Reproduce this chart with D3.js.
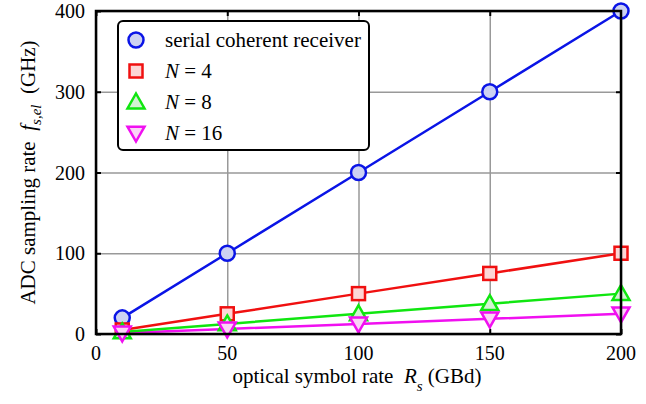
<!DOCTYPE html>
<html>
<head>
<meta charset="utf-8">
<script src="https://cdn.jsdelivr.net/npm/d3@7"></script>
<style>
  body { margin: 0; background: #fff; }
  svg text { white-space: pre; }
</style>
</head>
<body>
<div id="chart"></div>
<script>
// values
const symbolRate = [10, 50, 100, 150, 200];
const serial = [20, 100, 200, 300, 400];
const n4 = [5, 25, 50, 75, 100];
const n8 = [2.5, 12.5, 25, 37.5, 50];
const n16 = [1.25, 6.25, 12.5, 18.75, 25];
const xTicks = [0, 50, 100, 150, 200];
const yTicks = [0, 100, 200, 300, 400];

const series = [
  { name: "serial coherent receiver", values: serial, stroke: "#0a14e6", fill: "#cdd2f2", shape: "circle" },
  { name: "4", values: n4, stroke: "#f01010", fill: "#fcd6d6", shape: "square" },
  { name: "8", values: n8, stroke: "#10e610", fill: "#d4f2d4", shape: "triangle" },
  { name: "16", values: n16, stroke: "#f010f0", fill: "#fad4f6", shape: "down" }
];

const width = 646, height = 404;
const margin = { left: 96, right: 25, top: 11, bottom: 70 };
const serifFont = "'Liberation Serif', 'Times New Roman', Times, serif";

const svg = d3.select("#chart").append("svg")
  .attr("width", width).attr("height", height)
  .attr("font-family", serifFont)
  .style("font-family", serifFont);

const x = d3.scaleLinear().domain([0, 200]).range([margin.left, width - margin.right]);
const y = d3.scaleLinear().domain([0, 400]).range([height - margin.bottom, margin.top]);

// grid
svg.append("g")
  .attr("transform", `translate(0,${height - margin.bottom})`)
  .call(d3.axisBottom(x).tickValues(xTicks).tickSize(-(height - margin.bottom - margin.top)).tickFormat(""))
  .call(g => g.select(".domain").remove())
  .call(g => g.selectAll("line").attr("stroke", "#999").attr("stroke-width", 1.5));
svg.append("g")
  .attr("transform", `translate(${margin.left},0)`)
  .call(d3.axisLeft(y).tickValues(yTicks).tickSize(-(width - margin.left - margin.right)).tickFormat(""))
  .call(g => g.select(".domain").remove())
  .call(g => g.selectAll("line").attr("stroke", "#999").attr("stroke-width", 1.5));

// inward ticks on all four sides
const tk = 5;
svg.append("g").attr("transform", `translate(0,${height - margin.bottom})`)
  .call(d3.axisBottom(x).tickValues(xTicks).tickSize(-tk).tickFormat(""))
  .call(g => g.select(".domain").remove())
  .call(g => g.selectAll("line").attr("stroke", "#000").attr("stroke-width", 2));
svg.append("g").attr("transform", `translate(0,${margin.top})`)
  .call(d3.axisTop(x).tickValues(xTicks).tickSize(-tk).tickFormat(""))
  .call(g => g.select(".domain").remove())
  .call(g => g.selectAll("line").attr("stroke", "#000").attr("stroke-width", 2));
svg.append("g").attr("transform", `translate(${margin.left},0)`)
  .call(d3.axisLeft(y).tickValues(yTicks).tickSize(-tk).tickFormat(""))
  .call(g => g.select(".domain").remove())
  .call(g => g.selectAll("line").attr("stroke", "#000").attr("stroke-width", 2));
svg.append("g").attr("transform", `translate(${width - margin.right},0)`)
  .call(d3.axisRight(y).tickValues(yTicks).tickSize(-tk).tickFormat(""))
  .call(g => g.select(".domain").remove())
  .call(g => g.selectAll("line").attr("stroke", "#000").attr("stroke-width", 2));

// tick labels
svg.append("g").selectAll("text").data(xTicks).join("text")
  .attr("x", d => x(d)).attr("y", height - margin.bottom + 26)
  .attr("text-anchor", "middle").style("font-size", "20px").text(d => d);
svg.append("g").selectAll("text").data(yTicks).join("text")
  .attr("x", margin.left - 11).attr("y", d => y(d) + 7)
  .attr("text-anchor", "end").style("font-size", "20px").text(d => d);

// lines and markers
const line = d3.line().x((d, i) => x(symbolRate[i])).y(d => y(d));

function drawMarker(g, shape, cx, cy) {
  if (shape === "circle") {
    return g.append("circle").attr("cx", cx).attr("cy", cy).attr("r", 7.5);
  }
  if (shape === "square") {
    return g.append("rect").attr("x", cx - 6.5).attr("y", cy - 6.5).attr("width", 13).attr("height", 13);
  }
  const s = 8.5;
  if (shape === "triangle") {
    return g.append("path").attr("d", `M${cx},${cy - s}L${cx + s},${cy + s * 0.75}L${cx - s},${cy + s * 0.75}Z`);
  }
  return g.append("path").attr("d", `M${cx},${cy + s}L${cx + s},${cy - s * 0.75}L${cx - s},${cy - s * 0.75}Z`);
}

series.slice().reverse().forEach(s => {
  svg.append("path").datum(s.values)
    .attr("fill", "none").attr("stroke", s.stroke).attr("stroke-width", 2.5)
    .attr("d", line);
});
series.forEach(s => {
  const g = svg.append("g");
  s.values.forEach((v, i) => {
    drawMarker(g, s.shape, x(symbolRate[i]), y(v))
      .attr("fill", s.fill).attr("stroke", s.stroke).attr("stroke-width", 2.5);
  });
});

// frame
svg.append("rect")
  .attr("x", margin.left).attr("y", margin.top)
  .attr("width", width - margin.left - margin.right)
  .attr("height", height - margin.top - margin.bottom)
  .attr("fill", "none").attr("stroke", "#000").attr("stroke-width", 2.5);

// legend
const lg = svg.append("g");
lg.append("rect").attr("x", 118).attr("y", 21).attr("width", 251).attr("height", 129)
  .attr("rx", 5).attr("fill", "#fff").attr("stroke", "#000").attr("stroke-width", 2);
series.forEach((s, i) => {
  const cy = 40 + i * 31;
  drawMarker(lg, s.shape, 136, cy).attr("fill", s.fill).attr("stroke", s.stroke).attr("stroke-width", 2.5);
  const t = lg.append("text").attr("x", 165).attr("y", cy + 7).style("font-size", "21px");
  if (i === 0) {
    t.text(s.name);
  } else {
    t.append("tspan").style("font-style", "italic").text("N");
    t.append("tspan").text(" = " + s.name);
  }
});

// axis titles
const xt = svg.append("text").attr("x", 357).attr("y", 383)
  .attr("text-anchor", "middle").style("font-size", "21px");
xt.append("tspan").text("optical symbol rate  ");
xt.append("tspan").style("font-style", "italic").text("R");
xt.append("tspan").attr("dy", 8).style("font-size", "15px").style("font-style", "italic").text("s");
xt.append("tspan").attr("dy", -8).text(" (GBd)");

const yt = svg.append("text")
  .attr("transform", `translate(35,${(margin.top + height - margin.bottom) / 2}) rotate(-90)`)
  .attr("text-anchor", "middle").style("font-size", "21px");
yt.append("tspan").text("ADC sampling rate  ");
yt.append("tspan").style("font-style", "italic").text("f");
yt.append("tspan").attr("dy", 6).style("font-size", "15px").style("font-style", "italic").text("s,el");
yt.append("tspan").attr("dy", -6).text("  (GHz)");
</script>
</body>
</html>
